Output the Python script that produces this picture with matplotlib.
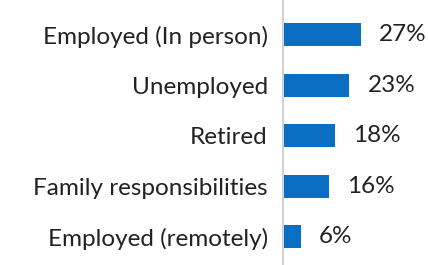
import matplotlib
matplotlib.use("Agg")
import matplotlib.pyplot as plt

categories = ["Employed (In person)", "Unemployed", "Retired", "Family responsibilities", "Employed (remotely)"]
values = [27, 23, 18, 16, 6]
value_labels = ["27%", "23%", "18%", "16%", "6%"]

plt.rcParams['font.family'] = ['Lato', 'DejaVu Sans']

W, H = 428, 265
fig = plt.figure(figsize=(W/100, H/100), dpi=100)
x0 = 283
ax = fig.add_axes([x0/W, 0, 1 - x0/W, 1])
pxper = 2.85
ax.set_xlim(0, (W - x0)/pxper)
c0, step = 34.5, 50.6
ax.set_ylim((H - c0)/step, -c0/step)

ys = list(range(len(categories)))
ax.barh(ys, values, height=23/step, color="#0a6fc2", left=0.3)
for y, v, lab in zip(ys, values, value_labels):
    ax.annotate(lab, (v + 0.3, y), xytext=(18*72/100, 0), textcoords="offset points",
                va="center", ha="left", fontsize=17.5, color="#222222")
ax.set_yticks(ys)
ax.set_yticklabels(categories, fontsize=17.5, color="#222222")
ax.tick_params(axis="y", length=0, pad=11)
ax.set_xticks([])
for s in ["top", "right", "bottom"]:
    ax.spines[s].set_visible(False)
ax.spines["left"].set_color("#c8c8c8")
ax.spines["left"].set_linewidth(1.2)
fig.savefig("out.png", dpi=100)
